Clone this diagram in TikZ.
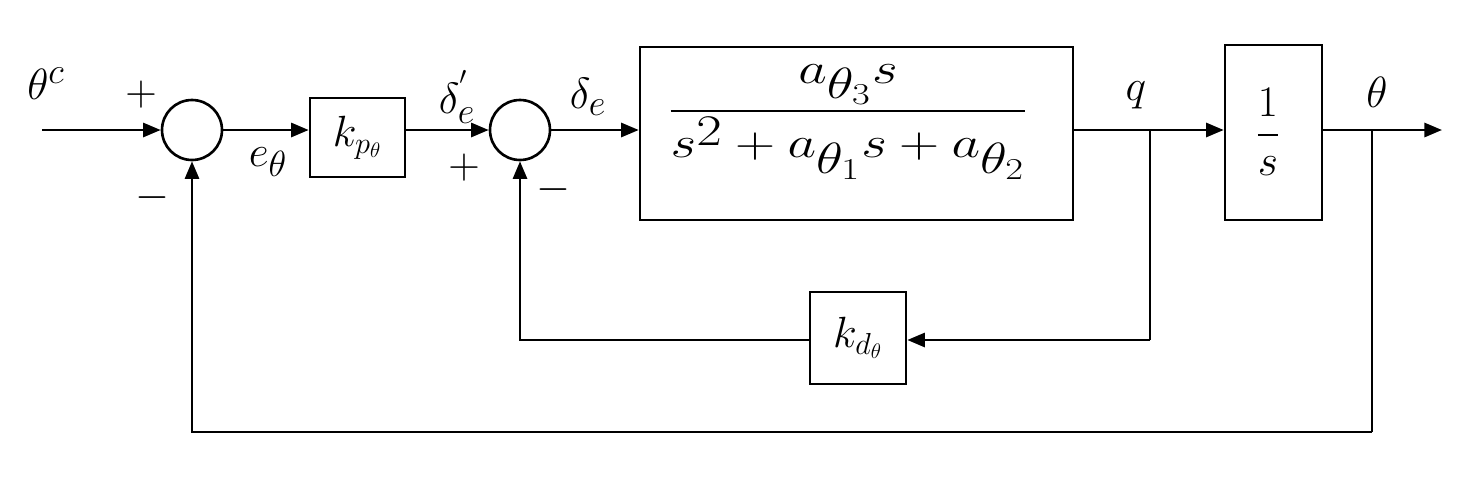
\documentclass[tikz,border=0pt]{standalone}
\usepackage{amsmath}
\usepackage{graphicx}
\usetikzlibrary{arrows.meta}
\begin{document}
\begin{tikzpicture}[x=0.02cm,y=-0.02cm, line width=1.5pt,
  sumnode/.style={draw,circle,minimum size=1.2cm,inner sep=0pt},
  blockbox/.style={draw,rectangle,inner sep=0pt},
  sig/.style={-{Triangle[length=10pt,width=8pt]}},
  lbl/.style={inner sep=0pt,font=\fontsize{28}{34}\selectfont},
  boxtxt/.style={inner sep=0pt,font=\fontsize{24}{30}\selectfont}]
\useasboundingbox (0,0) rectangle (1484,494);
% blocks
\node[sumnode] (s1) at (192,130) {};
\node[sumnode] (s2) at (520,130) {};
\node[blockbox, minimum width=1.9cm, minimum height=1.58cm, boxtxt] (kp) at (357.5,137.5) {$k_{p_\theta}$};
\node[blockbox, minimum width=8.66cm, minimum height=3.46cm] (G) at (856.5,133.5) {};
\node[inner sep=0pt,font=\fontsize{36}{42}\selectfont] (Gtxt) at (848,122) {\scalebox{1.27}[1]{$\dfrac{a_{\theta_3}s}{s^2+a_{\theta_1}s+a_{\theta_2}}$}};
\node[blockbox, minimum width=1.94cm, minimum height=3.5cm] (I) at (1273.5,132.5) {};
\node[inner sep=0pt,font=\fontsize{24}{28}\selectfont] (Itxt) at (1268,132) {$\dfrac{1\rule[-7pt]{0pt}{0pt}}{\rule{0pt}{19pt}s}$};
\node[blockbox, minimum width=1.92cm, minimum height=1.84cm, boxtxt] (kd) at (858,338) {$k_{d_\theta}$};
% coordinates
\coordinate (in) at (42,130);
\coordinate (qb) at (1150,130);
\coordinate (qd) at (1150,340);
\coordinate (tb) at (1372,130);
\coordinate (td) at (1372,432);
\coordinate (out) at (1442,130);
\coordinate (c2d) at (520,340);
\coordinate (c1d) at (192,432);
% connectors
\draw[sig] (in) -- (s1.west);
\draw[sig] (s1.east) -- (s1.east -| kp.west);
\draw[sig] (kp.east |- s2) -- (s2.west);
\draw[sig] (s2.east) -- (s2.east -| G.west);
\draw[sig] (G.east |- s2) -- (s2 -| I.west);
\draw[sig] (I.east |- s2) -- (out);
\draw (qb) -- (qd);
\draw[sig] (qd) -- (qd -| kd.east);
\draw[sig] (kd.west |- qd) -- (c2d) -- (s2.south);
\draw (tb) -- (td);
\draw[sig] (td) -- (c1d) -- (s1.south);
% labels
\node[lbl] (lthc) at (46,84) {$\theta^c$};
\node[lbl] (lp1) at (141,95) {$+$};
\node[lbl] (lm1) at (152,198) {$-$};
\node[lbl] (le) at (268,162) {$e_\theta$};
\node[lbl] (ldp) at (457,97) {$\delta^{'}_{e}$};
\node[lbl] (lp2) at (464,168) {$+$};
\node[lbl] (lm2) at (553,190) {$-$};
\node[lbl] (lde) at (588,97) {$\delta_e$};
\node[lbl] (lq) at (1136,95) {$q$};
\node[lbl] (lth) at (1377,92) {$\theta$};
\end{tikzpicture}
\end{document}
